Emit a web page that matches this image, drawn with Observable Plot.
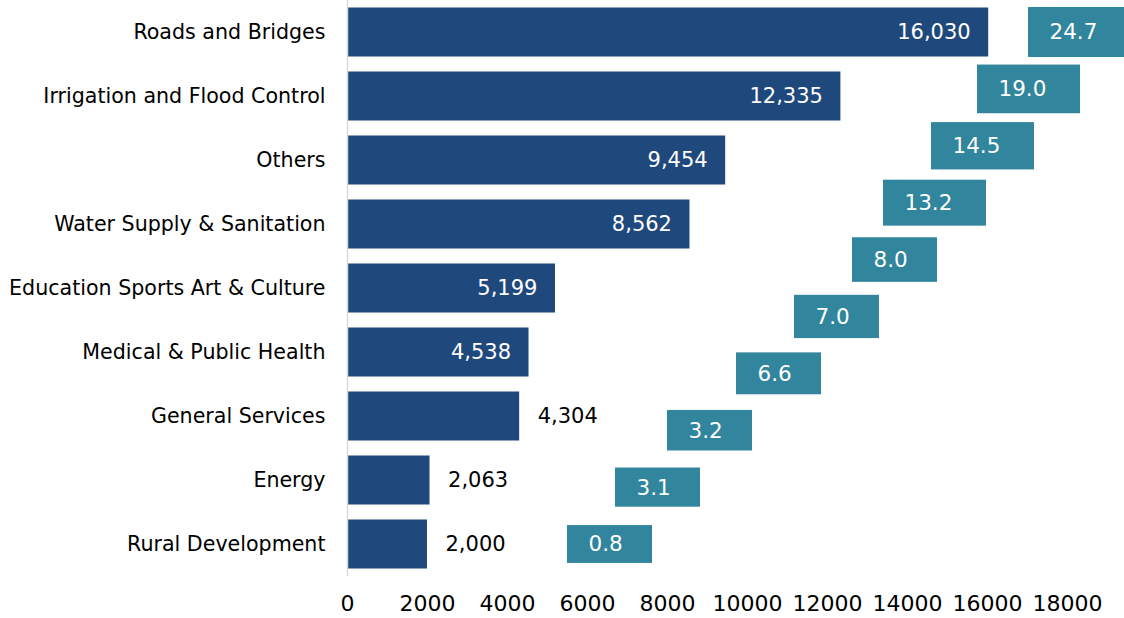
<!DOCTYPE html>
<html>
<head>
<meta charset="utf-8">
<script src="https://cdn.jsdelivr.net/npm/d3@7"></script>
<script src="https://cdn.jsdelivr.net/npm/@observablehq/plot@0.6"></script>
<style>
  html, body { margin: 0; padding: 0; background: #fff; overflow: hidden; }
</style>
</head>
<body>
<div id="chart"></div>
<script>
// ---- data ----
const categories = [
  "Roads and Bridges",
  "Irrigation and Flood Control",
  "Others",
  "Water Supply & Sanitation",
  "Education Sports Art & Culture",
  "Medical & Public Health",
  "General Services",
  "Energy",
  "Rural Development"
];
const amounts = [16030, 12335, 9454, 8562, 5199, 4538, 4304, 2063, 2000];
// share (%) series, drawn as labelled boxes
const shares = [24.7, 19.0, 14.5, 13.2, 8.0, 7.0, 6.6, 3.2, 3.1, 0.8];
// where each share box starts, in the x-axis units
const shareMarkerX = [17025, 15750, 14600, 13400, 12625, 11175, 9725, 8000, 6700, 5500];
const xTicks = [0, 2000, 4000, 6000, 8000, 10000, 12000, 14000, 16000, 18000];

// ---- layout ----
const W = 1124, H = 618;
const mLeft = 347, mRight = 57, mTop = 0, mBottom = 42;
const xMax = 18000;
const pxPerUnit = (W - mLeft - mRight) / xMax;
const pxPerRow = (H - mTop - mBottom) / categories.length;

const bars = categories.map((c, i) => ({category: c, i, amount: amounts[i]}));
const nShares = shares.length;
const boxes = shares.map((s, j) => {
  const label = s.toFixed(1);
  const wPx = label.length * 18 + 31;
  const hPx = 50 - 1.35 * j;
  const yc = j * (categories.length - 1) / (nShares - 1);
  return {
    label,
    x1: shareMarkerX[j],
    x2: shareMarkerX[j] + wPx / pxPerUnit,
    y: yc,
    y1: yc - hPx / pxPerRow / 2,
    y2: yc + hPx / pxPerRow / 2
  };
});

const fmt = d3.format(",");
const inside = d => d.amount >= 4500;

const chart = Plot.plot({
  width: W,
  height: H,
  marginLeft: mLeft,
  marginRight: mRight,
  marginTop: mTop,
  marginBottom: mBottom,
  style: {fontFamily: "DejaVu Sans", fontSize: "20px", color: "#000", background: "#fff", overflow: "hidden"},
  x: {domain: [0, xMax]},
  y: {domain: [-0.5, categories.length - 0.5], reverse: true},
  marks: [
    Plot.rect(bars, {
      x1: 0, x2: "amount",
      y1: d => d.i - 0.383, y2: d => d.i + 0.383,
      fill: "#1F497D"
    }),
    Plot.ruleX([0], {stroke: "#d9d9d9", strokeWidth: 1.5}),
    Plot.text(bars.filter(inside), {
      x: "amount", y: "i", text: d => fmt(d.amount),
      textAnchor: "end", dx: -18, fill: "#fff", fontSize: 21
    }),
    Plot.text(bars.filter(d => !inside(d)), {
      x: "amount", y: "i", text: d => fmt(d.amount),
      textAnchor: "start", dx: 18, fill: "#000", fontSize: 21
    }),
    Plot.rect(boxes, {x1: "x1", x2: "x2", y1: "y1", y2: "y2", fill: "#31859C"}),
    Plot.text(boxes, {
      x: "x1", y: "y", text: "label",
      textAnchor: "start", dx: 21, fill: "#fff", fontSize: 21.5
    }),
    Plot.axisY({
      ticks: d3.range(categories.length),
      tickFormat: i => categories[i],
      tickSize: 0, tickPadding: 22, fontSize: 20.6, anchor: "left"
    }),
    Plot.axisX({
      ticks: xTicks,
      tickFormat: d => String(d),
      tickSize: 0, tickPadding: 19, fontSize: 22, anchor: "bottom"
    })
  ]
});
document.getElementById("chart").appendChild(chart);
</script>
</body>
</html>
